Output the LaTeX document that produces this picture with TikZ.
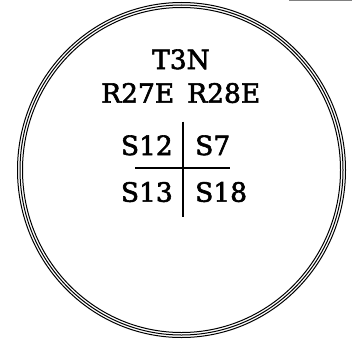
\documentclass[tikz,border=0pt]{standalone}
\usepackage{fontspec}
\newfontfamily\labfont[FakeBold=2.2]{DejaVu Serif}
\begin{document}
\begin{tikzpicture}[x=1pt,y=1pt,
  lab/.style={font=\labfont\fontsize{26.5}{26.5}\selectfont, inner sep=0pt},
  ring/.style={line width=1pt, black},
  cross/.style={line width=2.2pt, black}]
\useasboundingbox (0,0) rectangle (355,341);
% triple-line circle
\coordinate (c) at (181.5,171);
\draw[ring] (c) ellipse [x radius=164, y radius=167.5];
\draw[ring] (c) ellipse [x radius=161.5, y radius=165];
\draw[ring] (c) ellipse [x radius=159, y radius=162.5];
% artifact at top right
\coordinate (g1) at (289,340.5);
\coordinate (g2) at (352,340.5);
\draw[gray, line width=1pt] (g1) -- (g2);
% labels
\node[lab, anchor=base] (t) at (181,272) {T3N};
\node[lab, anchor=base west] (r1) at (101,238.3) {R27E};
\node[lab, anchor=base west] (r2) at (187,238.3) {R28E};
\node[lab, anchor=base east] (s12) at (173,186) {S12};
\node[lab, anchor=base west] (s7) at (195,186) {S7};
\node[lab, anchor=base east] (s13) at (173,139.3) {S13};
\node[lab, anchor=base west] (s18) at (195,139.3) {S18};
% cross
\coordinate (vt) at (183.3,219.5);
\coordinate (vb) at (183.3,124.3);
\coordinate (hl) at (135,172.7);
\coordinate (hr) at (230,172.7);
\draw[cross] (vt) -- (vb);
\draw[cross] (hl) -- (hr);
\end{tikzpicture}
\end{document}
